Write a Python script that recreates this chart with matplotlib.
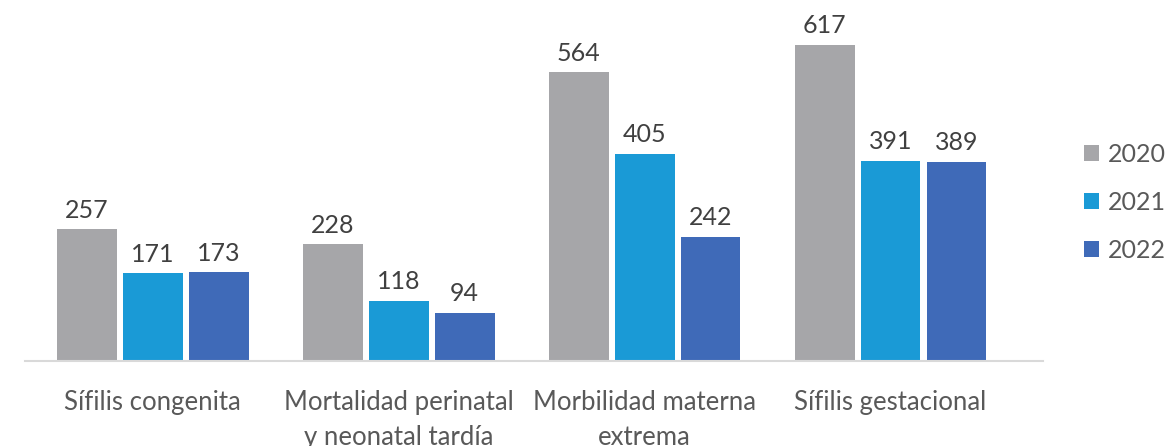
import matplotlib
matplotlib.use("Agg")
import matplotlib.pyplot as plt
import numpy as np

categories = ["Sífilis congenita", "Mortalidad perinatal\ny neonatal tardía",
              "Morbilidad materna\nextrema", "Sífilis gestacional"]
years = ["2020", "2021", "2022"]
v2020 = [257, 228, 564, 617]
v2021 = [171, 118, 405, 391]
v2022 = [173, 94, 242, 389]
series = [v2020, v2021, v2022]
colors = ["#A6A6A9", "#1A9AD6", "#3F6AB8"]

plt.rcParams['font.family'] = ['Lato', 'DejaVu Sans']

fig = plt.figure(figsize=(11.71, 4.46), dpi=100)
ax = fig.add_axes([25/1171, 85/446, (1043-25)/1171, 361/446])

x = np.arange(len(categories))
w = 0.243
off = 0.268
for i, (vals, c, yr) in enumerate(zip(series, colors, years)):
    pos = x + (i - 1) * off
    ax.bar(pos, vals, width=w, color=c, label=yr)
    for p, v in zip(pos, vals):
        ax.text(p, v + 15, str(v), ha='center', va='bottom', fontsize=18, color='#404040')

ax.set_xlim(-0.52, 3.62)
ax.set_ylim(0, 705)
ax.set_yticks([])
ax.set_xticks(x)
ax.set_xticklabels(categories, fontsize=18.5, color='#595959', linespacing=1.5)
ax.tick_params(axis='x', length=0, pad=21)
for s in ['top', 'right', 'left']:
    ax.spines[s].set_visible(False)
ax.spines['bottom'].set_color('#D9D9D9')
ax.spines['bottom'].set_linewidth(1.5)

leg = fig.legend(loc='center left', bbox_to_anchor=(1084/1171, 1 - 202/446), frameon=False,
                 fontsize=18, handlelength=0.6, handleheight=0.6, handletextpad=0.35,
                 labelspacing=1.0, labelcolor='#595959', borderpad=0, borderaxespad=0)

fig.savefig("out.png", dpi=100)
